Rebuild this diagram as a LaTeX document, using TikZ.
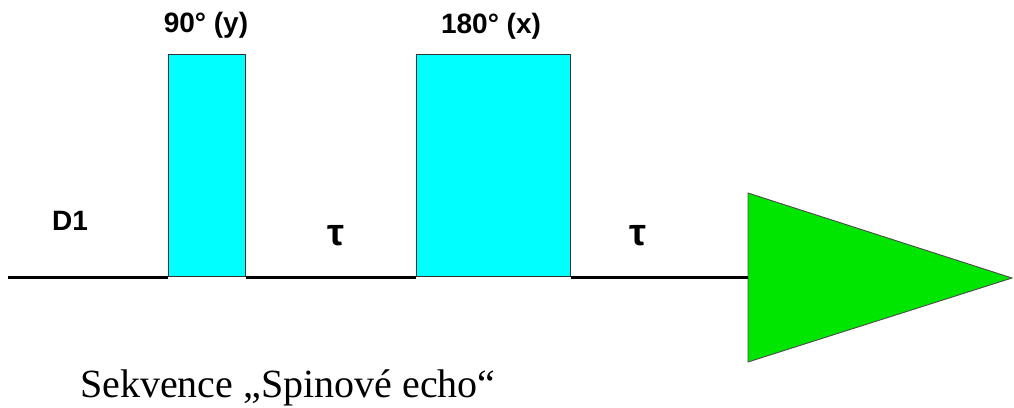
\documentclass[tikz,border=0pt]{standalone}
\usepackage{fontspec}
\setmainfont{Liberation Serif}
\newfontfamily\arialb{Liberation Sans}
\usetikzlibrary{shapes.geometric}
\definecolor{pulsecyan}{RGB}{0,255,255}
\definecolor{echogreen}{RGB}{0,230,0}
\tikzset{
  pulsebox/.style={draw=black!80, line width=0.9pt, fill=pulsecyan, inner sep=0pt, anchor=south west},
  lbl/.style={font=\arialb\bfseries\fontsize{28}{32}\selectfont, inner sep=0pt},
  taulbl/.style={font=\arialb\bfseries\fontsize{38}{40}\selectfont, inner sep=0pt},
}
\begin{document}
\begin{tikzpicture}[x=1pt,y=-1pt]
\useasboundingbox (0,0) rectangle (1014,407);
% pulses
\node[pulsebox, minimum width=77pt, minimum height=222pt] (p90) at (168,277) {};
\node[pulsebox, minimum width=154pt, minimum height=222pt] (p180) at (416,277) {};
% echo triangle
\coordinate (t1) at (748,193);
\coordinate (t2) at (1012,278);
\coordinate (t3) at (748,362);
\filldraw[fill=echogreen, draw=black!70, line width=0.9pt] (t1) -- (t2) -- (t3) -- cycle;
% baseline
\coordinate (start) at (8,277);
\coordinate (tri) at (748,277);
\draw[line width=3pt] (start) -- (p90.south west);
\draw[line width=3pt] (p90.south east) -- (p180.south west);
\draw[line width=3pt] (p180.south east) -- (tri);
% labels
\node[lbl] (l90) at (206,25) {90° (y)};
\node[lbl] (l180) at (491,26) {180° (x)};
\node[lbl] (d1) at (70,221) {D1};
\node[taulbl] (tau1) at (336,236) {τ};
\node[taulbl] (tau2) at (638,236) {τ};
\node[font=\fontsize{40}{44}\selectfont, inner sep=0pt, anchor=base west] (cap) at (80,397) {Sekvence „Spinové echo“};
\end{tikzpicture}
\end{document}
